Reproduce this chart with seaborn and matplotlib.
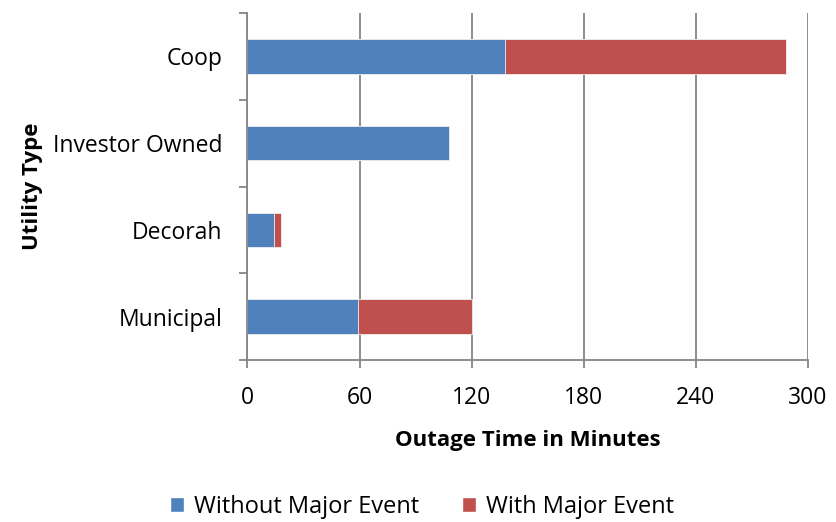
import matplotlib
matplotlib.use("Agg")
import matplotlib.pyplot as plt
from matplotlib.patches import Patch
import seaborn as sns
import pandas as pd

categories = ["Coop", "Investor Owned", "Decorah", "Municipal"]
without_major = [138, 108, 14, 59]
with_major = [150, 0, 4, 61]
x_ticks = [0, 60, 120, 180, 240, 300]

BLUE = "#4F81BD"
RED = "#C0504D"
GRID = "#868686"

sns.set_theme(style="white")
plt.rcParams["font.family"] = ["Open Sans", "DejaVu Sans"]
plt.rcParams["text.color"] = "black"
plt.rcParams["axes.labelcolor"] = "black"

df = pd.DataFrame({
    "Utility Type": categories,
    "Without": without_major,
    "Total": [a + b for a, b in zip(without_major, with_major)],
})

fig = plt.figure(figsize=(8.36, 5.22), dpi=100)
ax = fig.add_axes([0.296, 0.3103, 0.6705, 0.6648])

# stacked bars: full total in red, the part without major events in blue on top
sns.barplot(data=df, x="Total", y="Utility Type", orient="h", color=RED,
            width=0.4, saturation=1, edgecolor="#f0f0f0", linewidth=0.6, ax=ax)
sns.barplot(data=df, x="Without", y="Utility Type", orient="h", color=BLUE,
            width=0.4, saturation=1, edgecolor="#f0f0f0", linewidth=0.6, ax=ax)

ax.set_xlim(0, 300)
ax.set_ylim(len(categories) - 0.5, -0.5)
ax.set_xticks(x_ticks)
ax.set_xticklabels([str(t) for t in x_ticks], fontsize=16.5, color="black")
ax.set_yticks(range(len(categories)))
ax.set_yticklabels(categories, fontsize=16.5, color="black")
ax.set_yticks([i - 0.5 for i in range(len(categories) + 1)], minor=True)

ax.xaxis.grid(True, color=GRID, linewidth=1.3)
ax.yaxis.grid(False)
ax.set_axisbelow(True)

for s in ["top", "right"]:
    ax.spines[s].set_visible(False)
for s in ["left", "bottom"]:
    ax.spines[s].set_color(GRID)
    ax.spines[s].set_linewidth(1.3)

ax.tick_params(axis="y", which="major", length=0, pad=18)
ax.tick_params(axis="y", which="minor", length=5.8, width=1.3, color=GRID,
               direction="out", left=True)
ax.tick_params(axis="x", which="major", length=5.8, width=1.3, color=GRID,
               direction="out", bottom=True, pad=13)

ax.set_xlabel("Outage Time in Minutes", fontsize=16, fontweight="bold", labelpad=14)
ax.set_ylabel("Utility Type", fontsize=16, fontweight="bold", labelpad=7)

handles = [Patch(facecolor=BLUE, label="Without Major Event"),
           Patch(facecolor=RED, label="With Major Event")]
fig.legend(handles=handles, loc="center", bbox_to_anchor=(422 / 836, 1 - 507 / 522),
           ncol=2, frameon=False, fontsize=17, handlelength=0.6, handleheight=0.6,
           handletextpad=0.42, columnspacing=1.8, borderpad=0, borderaxespad=0)

fig.savefig("out.png", dpi=100)
